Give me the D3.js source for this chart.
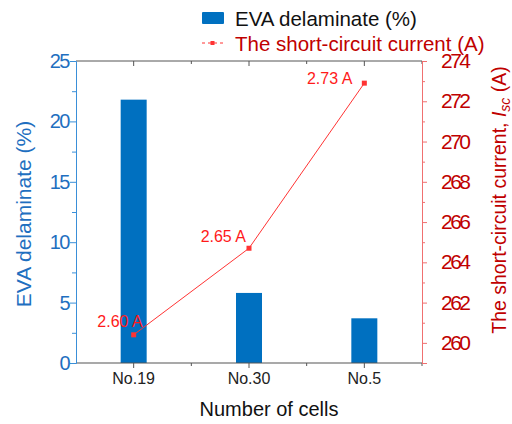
<!DOCTYPE html>
<html>
<head>
<meta charset="utf-8">
<script src="https://cdn.jsdelivr.net/npm/d3@7"></script>
<style>
  body { margin: 0; background: #fff; }
  svg { font-family: "Liberation Sans", Arial, sans-serif; }
</style>
</head>
<body>
<svg width="512" height="424"></svg>
<script>
var cells = ["No.19", "No.30", "No.5"];
var delaminate = [21.8, 5.8, 3.7];
var current = [2.604, 2.647, 2.729];
var currentLabels = ["2.60 A", "2.65 A", "2.73 A"];
var leftTicks = [0, 5, 10, 15, 20, 25];
var rightTicks = [2.60, 2.62, 2.64, 2.66, 2.68, 2.70, 2.72, 2.74];

var blue = "#0070c0", axisBlue = "#3a8fd8", textBlue = "#1f6fc0";
var red = "#ff3333", axisRed = "#f07070", darkRed = "#c00000";

// plot box (named to avoid window.top)
var pLeft = 76, pRight = 422, pTop = 61, pBottom = 363;
var svg = d3.select("svg");

var x = d3.scaleBand().domain(cells).range([pLeft, pRight]).padding(0);
var yL = d3.scaleLinear().domain([0, 25]).range([pBottom, pTop]);
var yR = d3.scaleLinear().domain([2.59, 2.74]).range([pBottom, pTop]);

// bars
svg.selectAll("rect.bar").data(delaminate).enter().append("rect")
  .attr("class", "bar")
  .attr("x", function (d, i) { return x(cells[i]) + x.bandwidth() / 2 - 13; })
  .attr("width", 26)
  .attr("y", function (d) { return yL(d); })
  .attr("height", function (d) { return pBottom - yL(d); })
  .attr("fill", blue);

// top frame line
svg.append("line").attr("x1", pLeft).attr("x2", pRight).attr("y1", pTop).attr("y2", pTop)
  .attr("stroke", "#555").attr("stroke-width", 1);

// bottom axis with minor ticks at band edges
var centers = cells.map(function (c) { return x(c) + x.bandwidth() / 2; });
var edges = cells.map(function (c) { return x(c) + x.bandwidth(); });
svg.append("line").attr("x1", pLeft).attr("x2", pRight).attr("y1", pBottom).attr("y2", pBottom)
  .attr("stroke", "#555").attr("stroke-width", 1.2);
centers.forEach(function (cx) {
  svg.append("line").attr("x1", cx).attr("x2", cx).attr("y1", pBottom).attr("y2", pBottom + 5).attr("stroke", "#555");
  svg.append("line").attr("x1", cx).attr("x2", cx).attr("y1", pTop).attr("y2", pTop + 5).attr("stroke", "#555");
});
edges.forEach(function (ex) {
  svg.append("line").attr("x1", ex).attr("x2", ex).attr("y1", pBottom).attr("y2", pBottom + 3).attr("stroke", "#555");
  svg.append("line").attr("x1", ex).attr("x2", ex).attr("y1", pTop).attr("y2", pTop + 3).attr("stroke", "#555");
});
svg.selectAll("text.xl").data(cells).enter().append("text")
  .attr("x", function (d) { return x(d) + x.bandwidth() / 2; })
  .attr("y", 384).attr("text-anchor", "middle")
  .attr("font-size", 16).attr("fill", "#222").text(function (d) { return d; });
svg.append("text").attr("x", 269).attr("y", 416).attr("text-anchor", "middle")
  .attr("font-size", 20).attr("fill", "#111").text("Number of cells");

// left axis
var gL = svg.append("g").attr("transform", "translate(" + pLeft + ",0)")
  .call(d3.axisLeft(yL).tickValues(d3.range(0, 25.1, 2.5)).tickSize(5).tickFormat(""));
gL.select(".domain").attr("stroke", axisBlue);
gL.selectAll(".tick line").attr("stroke", axisBlue)
  .attr("x2", function (d) { return d % 5 === 0 ? -6 : -4; });
svg.selectAll("text.yl").data(leftTicks).enter().append("text")
  .attr("x", 69).attr("y", function (d) { return yL(d) + 7; })
  .attr("text-anchor", "end").attr("font-size", 20).attr("letter-spacing", -1.5)
  .attr("fill", textBlue).text(function (d) { return d; });
svg.append("text").attr("transform", "translate(31,214) rotate(-90)")
  .attr("text-anchor", "middle").attr("font-size", 21).attr("fill", textBlue)
  .text("EVA delaminate (%)");

// right axis
var gR = svg.append("g").attr("transform", "translate(" + pRight + ",0)")
  .call(d3.axisRight(yR).tickValues(d3.range(0, 16).map(function (i) { return 2.59 + i * 0.01; }))
    .tickSize(5).tickFormat(""));
gR.select(".domain").attr("stroke", axisRed);
gR.selectAll(".tick line").attr("stroke", axisRed)
  .attr("x2", function (d, i) { return i % 2 === 1 ? 5 : 3; });
svg.selectAll("text.yr").data(rightTicks).enter().append("text")
  .attr("x", 441).attr("y", function (d) { return yR(d) + 7; })
  .attr("font-size", 21).attr("letter-spacing", -2.5).attr("fill", darkRed)
  .text(function (d) { return d.toFixed(2).replace(".", ""); });
var rt = svg.append("text").attr("transform", "translate(506,200) rotate(-90)")
  .attr("text-anchor", "middle").attr("font-size", 19.5).attr("fill", darkRed);
rt.append("tspan").text("The short-circuit current, ");
rt.append("tspan").attr("font-style", "italic").text("I");
rt.append("tspan").attr("font-style", "italic").attr("font-size", 14).attr("dy", 4).text("sc");
rt.append("tspan").attr("dy", -4).text(" (A)");

// line series
var line = d3.line()
  .x(function (d, i) { return centers[i]; })
  .y(function (d) { return yR(d); });
svg.append("path").datum(current).attr("d", line)
  .attr("fill", "none").attr("stroke", red).attr("stroke-width", 1);
svg.selectAll("rect.pt").data(current).enter().append("rect")
  .attr("x", function (d, i) { return centers[i] - 2.5; })
  .attr("y", function (d) { return yR(d) - 2.5; })
  .attr("width", 5).attr("height", 5).attr("fill", red);
var ldx = [9, -3, -12], ldy = [-8, -6, 1];
svg.selectAll("text.lab").data(currentLabels).enter().append("text")
  .attr("x", function (d, i) { return centers[i] + ldx[i]; })
  .attr("y", function (d, i) { return yR(current[i]) + ldy[i]; })
  .attr("text-anchor", "end").attr("font-size", 16).attr("fill", "#ff1a1a")
  .text(function (d) { return d; });

// legend
svg.append("rect").attr("x", 202).attr("y", 12).attr("width", 22).attr("height", 12)
  .attr("rx", 1).attr("fill", blue);
svg.append("text").attr("x", 235).attr("y", 26).attr("font-size", 20.5).attr("fill", "#111")
  .text("EVA delaminate (%)");
svg.append("line").attr("x1", 202).attr("x2", 224).attr("y1", 43).attr("y2", 43)
  .attr("stroke", red).attr("stroke-width", 1).attr("stroke-dasharray", "3,3");
svg.append("rect").attr("x", 210.5).attr("y", 41).attr("width", 4).attr("height", 4).attr("fill", red);
svg.append("text").attr("x", 235).attr("y", 51).attr("font-size", 20.5).attr("fill", darkRed)
  .text("The short-circuit current (A)");
</script>
</body>
</html>
